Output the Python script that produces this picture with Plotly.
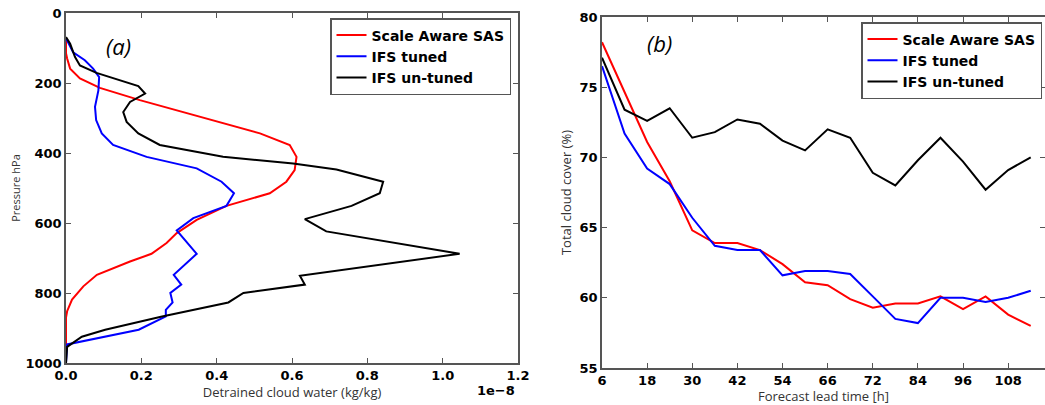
import plotly.graph_objects as go

# ---------------- Panel (a): detrained cloud water profiles (units of 1e-8 kg/kg) ----------------
sas_cw = [0.0, 0.0, 0.003, 0.011, 0.037, 0.09, 0.196, 0.338, 0.515, 0.594, 0.612, 0.607, 0.585,
          0.541, 0.426, 0.347, 0.294, 0.267, 0.227, 0.17, 0.082, 0.046, 0.016, 0.003, 0.0, 0.0]
sas_p = [70, 115, 130, 159, 187, 214, 249, 292, 344, 377, 411, 449, 482,
         515, 551, 591, 629, 657, 688, 710, 748, 781, 819, 852, 870, 1000]

tuned_cw = [0.0, 0.019, 0.05, 0.072, 0.088, 0.086, 0.077, 0.08, 0.095, 0.125, 0.214, 0.347, 0.413,
            0.446, 0.426, 0.338, 0.294, 0.347, 0.286, 0.306, 0.277, 0.283, 0.265, 0.265, 0.193,
            0.003, 0.0]
tuned_p = [72, 112, 135, 159, 183, 221, 268, 306, 344, 377, 411, 444, 482,
           515, 551, 586, 621, 688, 748, 776, 800, 827, 848, 867, 905,
           947, 1000]

untuned_cw = [0.0, 0.011, 0.024, 0.037, 0.081, 0.161, 0.192, 0.21, 0.17, 0.152, 0.161, 0.192, 0.249,
              0.417, 0.603, 0.718, 0.842, 0.833, 0.758, 0.634, 0.691, 1.045, 0.621, 0.634, 0.471,
              0.431, 0.255, 0.104, 0.042, 0.003, 0.0]
untuned_p = [69, 88, 126, 150, 171, 197, 209, 230, 254, 283, 311, 344, 377,
             411, 430, 447, 482, 515, 551, 589, 624, 688, 751, 776, 800,
             827, 867, 905, 925, 954, 1000]

# ---------------- Panel (b): total cloud cover vs forecast lead time ----------------
lead_time = [6, 12, 18, 24, 30, 36, 42, 48, 54, 60, 66, 72, 78, 84, 90, 96, 102, 108, 114, 120]
tcc_sas = [78.2, 74.7, 71.1, 68.3, 64.8, 63.9, 63.9, 63.4, 62.4, 61.1, 60.9, 59.9, 59.3, 59.6,
           59.6, 60.1, 59.2, 60.1, 58.8, 58.0]
tcc_tuned = [76.5, 71.7, 69.2, 68.1, 65.7, 63.7, 63.4, 63.4, 61.6, 61.9, 61.9, 61.7, 60.1, 58.5,
             58.2, 60.0, 60.0, 59.7, 60.0, 60.5]
tcc_untuned = [77.1, 73.4, 72.6, 73.5, 71.4, 71.8, 72.7, 72.4, 71.2, 70.5, 72.0, 71.4, 68.9, 68.0,
               69.8, 71.4, 69.7, 67.7, 69.1, 70.0]
lead_tickvals = [6, 18, 30, 42, 54, 66, 78, 90, 102, 114]
lead_ticktext = ["6", "18", "30", "42", "54", "66", "72", "84", "96", "108"]

names = ["Scale Aware SAS", "IFS tuned", "IFS un-tuned"]
colors = ["#ff0000", "#0000ff", "#000000"]

W, H = 1045, 405
fig = go.Figure()

for cw, p, nm, c in zip([sas_cw, tuned_cw, untuned_cw], [sas_p, tuned_p, untuned_p], names, colors):
    fig.add_trace(go.Scatter(x=cw, y=p, mode="lines", name=nm, line=dict(color=c, width=2),
                             xaxis="x", yaxis="y", legend="legend"))

for vals, nm, c in zip([tcc_sas, tcc_tuned, tcc_untuned], names, colors):
    fig.add_trace(go.Scatter(x=lead_time, y=vals, mode="lines", name=nm, line=dict(color=c, width=2),
                             xaxis="x2", yaxis="y2", legend="legend2"))

tickfont = dict(family="DejaVu Sans", size=13, color="black", weight="bold")
titlefont = dict(family="Open Sans", size=13, color="#333333")
frame = dict(showline=True, linecolor="#555555", linewidth=1.5, mirror="allticks",
             ticks="inside", ticklen=5, tickcolor="#555555", tickwidth=1,
             showgrid=False, zeroline=False, tickfont=tickfont, automargin=False)

legfont = dict(family="DejaVu Sans", size=14, color="black", weight="bold")

fig.update_layout(
    width=W, height=H,
    margin=dict(l=0, r=0, t=0, b=0, pad=0, autoexpand=False),
    paper_bgcolor="white", plot_bgcolor="white",
    showlegend=True,
    xaxis=dict(domain=[66 / W, 518 / W], anchor="y", range=[0, 1.2], dtick=0.2, tick0=0,
               tickformat=".1f",
               title=dict(text="Detrained cloud water (kg/kg)", font=titlefont, standoff=2),
               **frame),
    yaxis=dict(domain=[1 - 363 / H, 1 - 13 / H], anchor="x", range=[1000, 0], dtick=200, tick0=0,
               title=dict(text="Pressure hPa", font=dict(family="Open Sans", size=11, color="#333333"),
                          standoff=3), **frame),
    xaxis2=dict(domain=[602 / W, 1.0], anchor="y2", range=[6, 123.8], tickvals=lead_tickvals,
                ticktext=lead_ticktext,
                title=dict(text="Forecast lead time [h]", font=titlefont, standoff=2), **frame),
    yaxis2=dict(domain=[1 - 368 / H, 1 - 17 / H], anchor="x2", range=[55, 80], dtick=5, tick0=55,
                title=dict(text="Total cloud cover (%)", font=titlefont, standoff=5), **frame),
    legend=dict(x=511 / W, y=1 - 18 / H, xanchor="right", yanchor="top",
                bgcolor="white", bordercolor="#555555", borderwidth=1.5, font=legfont),
    legend2=dict(x=1042 / W, y=1 - 22 / H, xanchor="right", yanchor="top",
                 bgcolor="white", bordercolor="#555555", borderwidth=1.5, font=legfont),
    annotations=[
        dict(text="(a)", x=118 / W, y=1 - 46 / H, xref="paper", yref="paper", showarrow=False,
             xanchor="center", yanchor="middle",
             font=dict(family="Open Sans", size=22, color="black", style="italic")),
        dict(text="(b)", x=659 / W, y=1 - 43 / H, xref="paper", yref="paper", showarrow=False,
             xanchor="center", yanchor="middle",
             font=dict(family="Open Sans", size=22, color="black", style="italic")),
        dict(text="1e\u22128", x=517 / W, y=1 - 390 / H, xref="paper", yref="paper", showarrow=False,
             xanchor="right", yanchor="middle",
             font=dict(family="DejaVu Sans", size=13, color="black", weight="bold")),
    ],
)

fig.write_html("out.html", config={"displayModeBar": False},
               post_script="document.body.style.margin='0';document.body.style.padding='0';")
